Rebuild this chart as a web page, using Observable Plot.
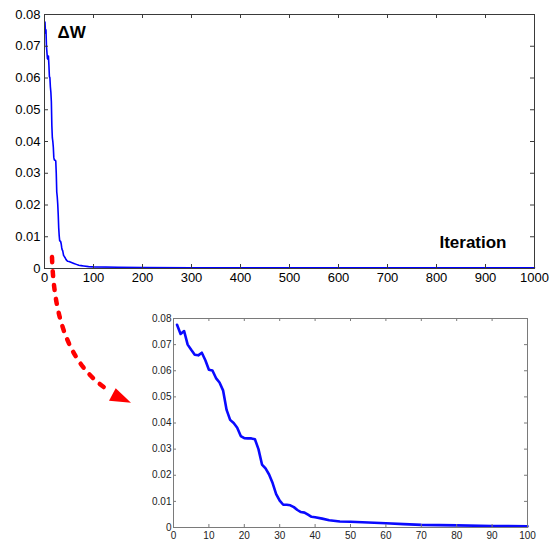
<!DOCTYPE html>
<html><head><meta charset="utf-8">
<script src="https://cdn.jsdelivr.net/npm/d3@7"></script>
<script src="https://cdn.jsdelivr.net/npm/@observablehq/plot@0.6"></script>
<style>
body{margin:0;background:#fff;}
#wrap{position:relative;width:550px;height:542px;font-family:"Liberation Sans",Arial,sans-serif;}
#wrap svg{display:block}
#arrow{position:absolute;left:0;top:0;pointer-events:none}
</style></head><body><div id="wrap"></div>
<script>
// Readings of ΔW for the first 100 iterations (shown enlarged in the inset)
const iterations = [1,2,3,4,5,6,7,8,9,10,11,12,13,14,15,16,17,18,19,20,21,22,23,24,25,26,27,28,29,30,31,32,33,34,35,36,37,38,39,40,42,44,47,50,55,60,65,70,75,80,90,100];
const deltaW = [0.0776,0.0741,0.0752,0.0700,0.0680,0.0661,0.0659,0.0669,0.0640,0.0604,0.0601,0.0572,0.0555,0.0525,0.0450,0.0412,0.0400,0.0382,0.0350,0.0342,0.0341,0.0341,0.0338,0.0300,0.0241,0.0226,0.0203,0.0170,0.0128,0.0103,0.0087,0.0087,0.0085,0.0078,0.0067,0.0059,0.0057,0.0049,0.0041,0.0039,0.0034,0.0028,0.0023,0.0022,0.0019,0.0016,0.0013,0.0010,0.0009,0.0008,0.0006,0.0005];
// Remaining iterations, flat near zero in the main chart
const tailIterations = [150,200,300,400,500,600,700,800,900,1000];
const tailDeltaW = [0.0004,0.0003,0.0002,0.0002,0.0002,0.0002,0.0002,0.0002,0.0002,0.0002];

const mainXTicks = [0,100,200,300,400,500,600,700,800,900,1000];
const mainYTicks = [0,0.01,0.02,0.03,0.04,0.05,0.06,0.07,0.08];
const insetXTicks = [0,10,20,30,40,50,60,70,80,90,100];
const insetYTicks = [0,0.01,0.02,0.03,0.04,0.05,0.06,0.07,0.08];

const titleY = "ΔW";
const titleX = "Iteration";

const firstPart = iterations.map((it, i) => ({it, w: deltaW[i]}));
const tailPart = tailIterations.map((it, i) => ({it, w: tailDeltaW[i]}));
const full = firstPart.concat(tailPart);
const fmtY = d => d === 0 ? "0" : d.toFixed(2);
const font = "'Liberation Sans', Arial, sans-serif";

const wrap = document.getElementById("wrap");

// ---- main chart
const M = {w: 550, h: 290, l: 44, r: 16, t: 14, b: 22};
const mpw = M.w - M.l - M.r, mph = M.h - M.t - M.b;
const mainFrame = "#3a3a3a";
const main = Plot.plot({
  width: M.w, height: M.h,
  marginLeft: M.l, marginRight: M.r, marginTop: M.t, marginBottom: M.b,
  style: {fontFamily: font, fontSize: "13px", color: "#000", background: "white", overflow: "visible"},
  x: {domain: [0, 1000], label: null},
  y: {domain: [0, 0.08], label: null},
  marks: [
    Plot.line(full, {x: "it", y: "w", stroke: "#0000ff", strokeWidth: 1.6}),
    Plot.tickX(mainXTicks, {x: d => d, insetTop: mph - 4, stroke: mainFrame}),
    Plot.tickX(mainXTicks, {x: d => d, insetBottom: mph - 4, stroke: mainFrame}),
    Plot.tickY(mainYTicks, {y: d => d, insetRight: mpw - 4, stroke: mainFrame}),
    Plot.tickY(mainYTicks, {y: d => d, insetLeft: mpw - 4, stroke: mainFrame}),
    Plot.frame({stroke: mainFrame}),
    Plot.axisX({ticks: mainXTicks, tickSize: 0, tickPadding: 4, tickFormat: d => String(d)}),
    Plot.axisY({ticks: mainYTicks, tickSize: 0, tickPadding: 4, tickFormat: fmtY}),
    Plot.text([titleY], {text: d => d, frameAnchor: "top-left", dx: 13, dy: 11, fontSize: 17, fontWeight: "bold", textAnchor: "start", lineAnchor: "top", fill: "#000"}),
    Plot.text([titleX], {text: d => d, frameAnchor: "bottom-right", dx: -28, dy: -21, fontSize: 17, fontWeight: "bold", textAnchor: "end", lineAnchor: "bottom", fill: "#000"})
  ]
});
wrap.appendChild(main);

// ---- inset chart (first 100 iterations)
const I = {w: 550, h: 252, l: 173, r: 23, t: 28, b: 15};
const ipw = I.w - I.l - I.r, iph = I.h - I.t - I.b;
const insetFrame = "#7a7a7a";
const inset = Plot.plot({
  width: I.w, height: I.h,
  marginLeft: I.l, marginRight: I.r, marginTop: I.t, marginBottom: I.b,
  style: {fontFamily: font, fontSize: "10px", color: "#222", background: "white", overflow: "visible"},
  x: {domain: [0, 100], label: null},
  y: {domain: [0, 0.08], label: null},
  marks: [
    Plot.line(firstPart, {x: "it", y: "w", stroke: "#0a0aff", strokeWidth: 2.6, curve: "linear"}),
    Plot.tickX(insetXTicks, {x: d => d, insetTop: iph - 3, stroke: insetFrame}),
    Plot.tickX(insetXTicks, {x: d => d, insetBottom: iph - 3, stroke: insetFrame}),
    Plot.tickY(insetYTicks, {y: d => d, insetRight: ipw - 3, stroke: insetFrame}),
    Plot.tickY(insetYTicks, {y: d => d, insetLeft: ipw - 3, stroke: insetFrame}),
    Plot.frame({stroke: insetFrame}),
    Plot.axisX({ticks: insetXTicks, tickSize: 0, tickPadding: 4, tickFormat: d => String(d)}),
    Plot.axisY({ticks: insetYTicks, tickSize: 0, tickPadding: 2, tickFormat: fmtY})
  ]
});
wrap.appendChild(inset);

// ---- red dashed zoom arrow (annotation)
const svg = d3.select(wrap).append("svg").attr("id", "arrow")
  .attr("width", 550).attr("height", 542);
svg.append("path")
  .attr("d", "M52,257 C54,320 70,365 108,390")
  .attr("fill", "none").attr("stroke", "#ff0000").attr("stroke-width", 4.5)
  .attr("stroke-linecap", "round").attr("stroke-dasharray", "5 9");
svg.append("path")
  .attr("d", "M115.7,388.3 L109,400.7 L131,402.7 Z")
  .attr("fill", "#ff0000");
</script></body></html>
